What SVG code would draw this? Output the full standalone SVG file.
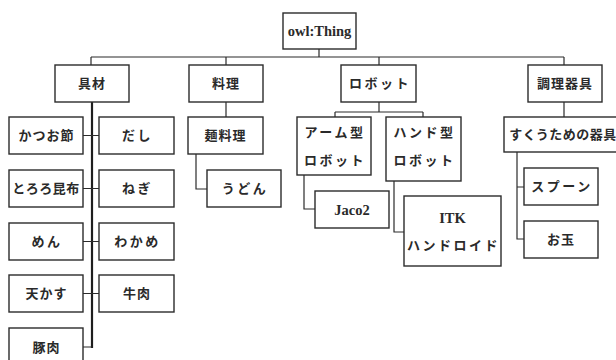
<svg xmlns="http://www.w3.org/2000/svg" width="616" height="360" viewBox="0 0 616 360">
  <style>
    .box { fill: #ffffff; stroke: #2b2b2b; stroke-width: 1.4; }
    .lbl { font-family: "Liberation Serif", "Noto Sans CJK JP", serif; font-size: 13px; font-weight: bold; fill: #2a2a2a; text-anchor: middle; dominant-baseline: central; letter-spacing: 1px; }
    .lat { font-size: 14.5px; letter-spacing: 0; }
    .wide { letter-spacing: 2.5px; }
    .link { fill: none; stroke: #2b2b2b; stroke-width: 1.2; }
    .trunk { fill: none; stroke: #1e1e1e; stroke-width: 2.2; }
  </style>
  <rect width="616" height="360" fill="#ffffff"/>

  <g id="connectors">
    <!-- root to top-level classes -->
    <path class="link" d="M319,49 V57 M91,57 H564 M91,57 V65 M226,57 V65 M379,57 V65 M564,57 V65"/>
    <!-- 具材 children -->
    <path class="trunk" d="M92,102 V348"/>
    <path class="link" d="M83,135.5 H99 M83,188.5 H99 M83,241.5 H99 M83,293.5 H99 M83,347 H92"/>
    <!-- 料理 branch -->
    <path class="link" d="M226,102 V117 M196,154 V189 H207"/>
    <!-- ロボット branch -->
    <path class="link" d="M379,102 V112 M335,112 H423 M335,112 V117 M423,112 V117 M304,175 V209 H315 M394,181 V232 H404"/>
    <!-- 調理器具 branch -->
    <path class="link" d="M564,102 V117 M517,152 V239 H524 M517,187 H524"/>
  </g>

  <g id="owl-thing">
    <rect class="box" x="283" y="13" width="73" height="36"/>
    <text class="lbl lat" x="319.5" y="31">owl:Thing</text>
  </g>

  <g id="gugai">
    <rect class="box" x="55" y="65" width="74" height="37"/>
    <text class="lbl" x="92" y="83.5">具材</text>
  </g>
  <g id="ryouri">
    <rect class="box" x="189" y="65" width="74" height="37"/>
    <text class="lbl" x="226" y="83.5">料理</text>
  </g>
  <g id="robot">
    <rect class="box" x="341" y="65" width="75" height="37"/>
    <text class="lbl wide" x="380" y="83.5">ロボット</text>
  </g>
  <g id="chouri-kigu">
    <rect class="box" x="528" y="65" width="74" height="37"/>
    <text class="lbl" x="565" y="83.5">調理器具</text>
  </g>

  <g id="katsuobushi">
    <rect class="box" x="9" y="117" width="74" height="37"/>
    <text class="lbl" x="46.5" y="135.5">かつお節</text>
  </g>
  <g id="dashi">
    <rect class="box" x="99" y="117" width="75" height="37"/>
    <text class="lbl wide" x="137.5" y="135.5">だし</text>
  </g>
  <g id="tororo-konbu">
    <rect class="box" x="9" y="170" width="74" height="37"/>
    <text class="lbl" x="46" y="188.5" style="letter-spacing:0.5px">とろろ昆布</text>
  </g>
  <g id="negi">
    <rect class="box" x="99" y="170" width="75" height="37"/>
    <text class="lbl wide" x="137.5" y="188.5">ねぎ</text>
  </g>
  <g id="men">
    <rect class="box" x="9" y="223" width="74" height="37"/>
    <text class="lbl wide" x="47" y="241.5">めん</text>
  </g>
  <g id="wakame">
    <rect class="box" x="99" y="223" width="75" height="37"/>
    <text class="lbl wide" x="137.5" y="241.5">わかめ</text>
  </g>
  <g id="tenkasu">
    <rect class="box" x="9" y="275" width="74" height="37"/>
    <text class="lbl" x="46.5" y="293.5">天かす</text>
  </g>
  <g id="gyuuniku">
    <rect class="box" x="99" y="275" width="75" height="37"/>
    <text class="lbl" x="137" y="293.5">牛肉</text>
  </g>
  <g id="butaniku">
    <rect class="box" x="9" y="328" width="74" height="38"/>
    <text class="lbl" x="46.5" y="347">豚肉</text>
  </g>

  <g id="menryouri">
    <rect class="box" x="188" y="117" width="75" height="37"/>
    <text class="lbl" x="225.5" y="135.5">麺料理</text>
  </g>
  <g id="udon">
    <rect class="box" x="207" y="170" width="74" height="37"/>
    <text class="lbl wide" x="245" y="188.5">うどん</text>
  </g>

  <g id="arm-robot">
    <rect class="box" x="297" y="117" width="74" height="58"/>
    <text class="lbl wide" x="335" y="132">アーム型</text>
    <text class="lbl wide" x="335" y="160">ロボット</text>
  </g>
  <g id="jaco2">
    <rect class="box" x="315" y="191" width="74" height="37"/>
    <text class="lbl lat" x="352" y="209.5">Jaco2</text>
  </g>
  <g id="hand-robot">
    <rect class="box" x="386" y="117" width="75" height="64"/>
    <text class="lbl wide" x="424.5" y="132">ハンド型</text>
    <text class="lbl wide" x="424.5" y="160">ロボット</text>
  </g>
  <g id="itk-handroid">
    <rect class="box" x="404" y="196" width="97" height="70"/>
    <text class="lbl lat" x="452.5" y="218">ITK</text>
    <text class="lbl wide" x="453.5" y="245">ハンドロイド</text>
  </g>

  <g id="sukuu-kigu">
    <rect class="box" x="504" y="117" width="122" height="35"/>
    <text class="lbl" x="563" y="134.5" style="letter-spacing:0.5px">すくうための器具</text>
  </g>
  <g id="spoon">
    <rect class="box" x="524" y="168" width="74" height="37"/>
    <text class="lbl wide" x="562" y="186.5">スプーン</text>
  </g>
  <g id="otama">
    <rect class="box" x="524" y="221" width="74" height="37"/>
    <text class="lbl" x="561" y="239.5">お玉</text>
  </g>
</svg>
